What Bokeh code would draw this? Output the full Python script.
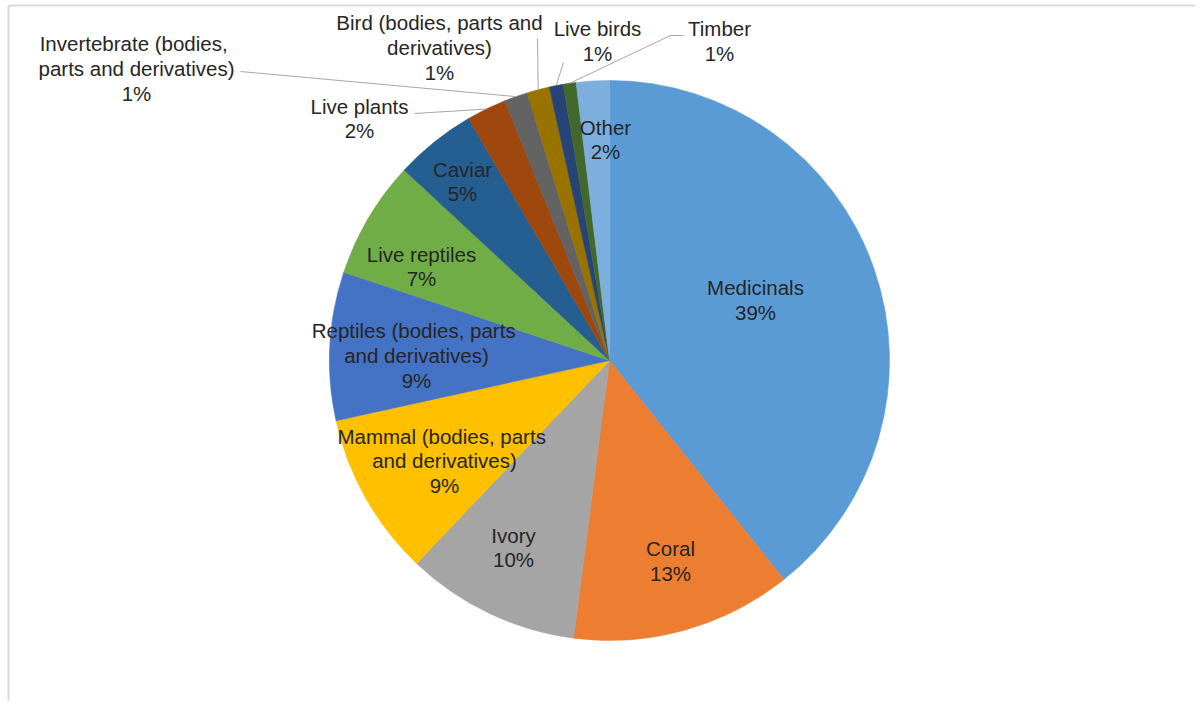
import math
import textwrap
from bokeh.plotting import figure
from bokeh.models import Range1d, ColumnDataSource
from bokeh.core.properties import value
from bokeh.embed import file_html
from bokeh.resources import INLINE

# ---------------- data ----------------
categories = [
    "Medicinals",
    "Coral",
    "Ivory",
    "Mammal  (bodies, parts and derivatives)",
    "Reptiles  (bodies, parts and derivatives)",
    "Live reptiles",
    "Caviar",
    "Live plants",
    "Invertebrate  (bodies, parts and derivatives)",
    "Bird (bodies, parts and derivatives)",
    "Live birds",
    "Timber",
    "Other",
]
shares = [39.3, 12.75, 10.05, 9.45, 8.55, 6.8, 4.7, 2.3, 1.35, 1.3, 0.8, 0.75, 1.9]

# ---------------- style / layout ----------------
colors = ["#5B9BD5", "#ED7D31", "#A5A5A5", "#FFC000", "#4472C4", "#70AD47",
          "#255E91", "#9E480E", "#636363", "#997300", "#264478", "#43682B", "#7CAFDD"]
wrap_widths = [40, 40, 40, 24, 24, 40, 40, 40, 22, 23, 40, 40, 40]
# label centres in image pixels
label_pos = [(755, 299.5), (670, 560.5), (513, 547), (444, 460.5), (416, 355),
             (421, 266), (462, 181), (359, 118), (136, 68), (439, 47),
             (597, 40.5), (719, 40.5), (605, 139)]
# leader starting points (image pixels) for outside labels
leader_start = {
    7: [(414, 113)],
    8: [(240, 71)],
    9: [(537, 38)],
    10: [(563, 62)],
    11: [(683, 35), (670, 35)],
}

W, H = 1195, 701
def px(x):
    return x
def py(y):
    return H - y

CX, CY, R = px(609), py(360), 280
FONT = value("Liberation Sans")
TEXT_COLOR = "#262626"

p = figure(width=W, height=H, x_range=Range1d(0, W), y_range=Range1d(0, H),
           x_axis_type=None, y_axis_type=None, output_backend="svg",
           toolbar_location=None, min_border=0)
p.grid.visible = False
p.outline_line_color = None
p.background_fill_color = "white"
p.border_fill_color = "white"

total = sum(shares)
starts, ends, mids = [], [], []
cum = 0.0
for v in shares:
    a0 = math.pi / 2 - 2 * math.pi * cum / total
    cum += v
    a1 = math.pi / 2 - 2 * math.pi * cum / total
    starts.append(a0)
    ends.append(a1)
    mids.append((a0 + a1) / 2)

src = ColumnDataSource(dict(start=starts, end=ends, color=colors))
p.wedge(x=CX, y=CY, radius=R, start_angle="start", end_angle="end",
        direction="clock", fill_color="color", line_color="color",
        line_width=0.6, source=src)

# leader lines
lx, ly = [], []
for i, pts in leader_start.items():
    xs = [px(a) for a, b in pts] + [CX + R * math.cos(mids[i])]
    ys = [py(b) for a, b in pts] + [CY + R * math.sin(mids[i])]
    lx.append(xs)
    ly.append(ys)
p.multi_line(xs=lx, ys=ly, line_color="#A6A6A6", line_width=1)

# labels
texts = []
for name, v, w in zip(categories, shares, wrap_widths):
    lines = textwrap.wrap(name, width=w, drop_whitespace=True)
    texts.append("\n".join(lines + [f"{round(v)}%"]))
tsrc = ColumnDataSource(dict(x=[px(a) for a, b in label_pos],
                             y=[py(b) for a, b in label_pos], t=texts))
p.text(x="x", y="y", text="t", source=tsrc, text_align="center",
       text_baseline="middle", text_font=FONT, text_font_size="20.5px",
       text_color=TEXT_COLOR, text_line_height=1.07)

# chart-area frame (top and left edges visible)
p.segment(x0=[8, 8], y0=[0, py(5)], x1=[8, W], y1=[py(5), py(5)],
          line_color="#D9D9D9", line_width=2)

open("out.html", "w").write(file_html(p, INLINE))
